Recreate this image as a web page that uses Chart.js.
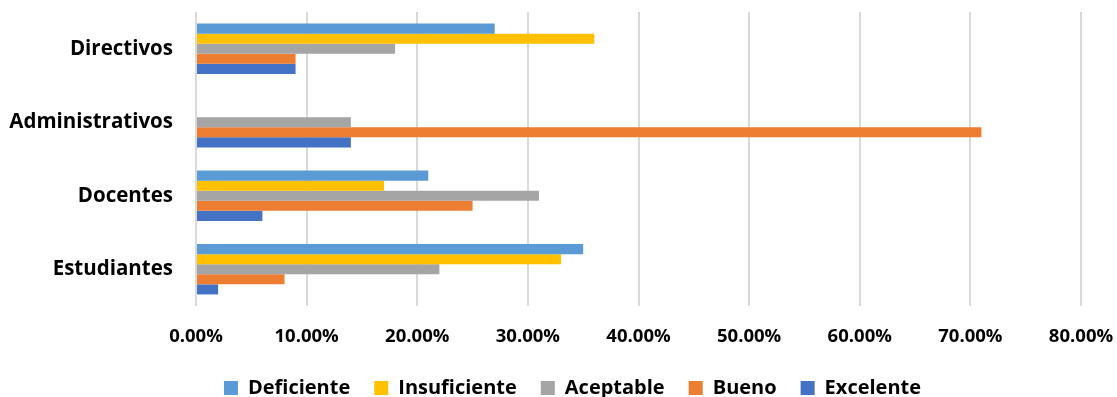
<!DOCTYPE html>
<html>
<head>
<meta charset="utf-8">
<script src="https://cdn.jsdelivr.net/npm/chart.js@4"></script>
<style>
  html, body { margin: 0; padding: 0; background: #ffffff; }
  #wrap { width: 1117px; height: 397px; position: relative; }
</style>
</head>
<body>
<div id="wrap"><canvas id="c" width="1117" height="397"></canvas></div>
<script>
const categories = ['Directivos', 'Administrativos', 'Docentes', 'Estudiantes'];
const seriesNames = ['Deficiente', 'Insuficiente', 'Aceptable', 'Bueno', 'Excelente'];
const deficiente   = [27, 0, 21, 35];
const insuficiente = [36, 0, 17, 33];
const aceptable    = [18, 14, 31, 22];
const bueno        = [9, 71, 25, 8];
const excelente    = [9, 14, 6, 2];
const xTicks = [0, 10, 20, 30, 40, 50, 60, 70, 80];
const colors = ['#5B9BD5', '#FFC000', '#A5A5A5', '#ED7D31', '#4472C4'];

const seriesValues = [deficiente, insuficiente, aceptable, bueno, excelente];
const FONT = '"Open Sans", Lato, sans-serif';

const legendShift = {
  id: 'legendShift',
  afterLayout(chart) {
    const lg = chart.legend;
    if (lg) { lg.left += 14; lg.right += 14; }
  }
};

new Chart(document.getElementById('c'), {
  type: 'bar',
  data: {
    labels: categories,
    datasets: seriesNames.map((n, i) => ({
      label: n,
      data: seriesValues[i],
      backgroundColor: colors[i],
      borderWidth: 0,
      barPercentage: 1.0,
      categoryPercentage: 0.685
    }))
  },
  options: {
    indexAxis: 'y',
    responsive: false,
    animation: false,
    devicePixelRatio: 1,
    layout: { padding: { top: 12, left: 0, right: 0, bottom: -11 } },
    scales: {
      x: {
        min: 0, max: 80,
        afterBuildTicks: (axis) => { axis.ticks = xTicks.map(v => ({ value: v })); },
        afterFit: (s) => { s.height = 48; s.paddingRight = 36; },
        grid: { color: '#D9D9D9', lineWidth: 2, drawTicks: false },
        border: { display: false },
        ticks: {
          padding: 20,
          maxRotation: 0,
          color: '#000',
          font: { family: FONT, size: 18.5, weight: 'bold' },
          callback: (v) => Number(v).toFixed(2) + '%'
        }
      },
      y: {
        afterFit: (s) => { s.width = 196; s.paddingTop = 0; s.paddingBottom = 0; },
        grid: { display: false, drawTicks: false },
        border: { display: false },
        ticks: {
          padding: 23,
          color: '#000',
          font: { family: FONT, size: 20.5, weight: 'bold' }
        }
      }
    },
    plugins: {
      legend: {
        position: 'bottom',
        labels: {
          boxWidth: 14, boxHeight: 14, padding: 24,
          color: '#000',
          font: { family: FONT, size: 20, weight: 'bold' }
        }
      },
      tooltip: { enabled: false }
    }
  },
  plugins: [legendShift]
});
</script>
</body>
</html>
